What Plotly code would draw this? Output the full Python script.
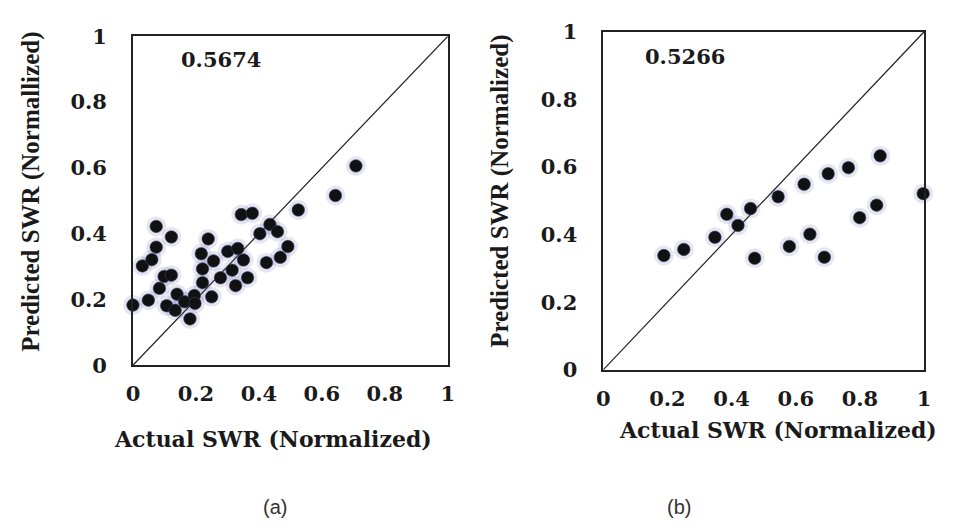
import plotly.graph_objects as go

# ---- data: panel (a) ----
actual_a = [0.000, 0.049, 0.030, 0.060, 0.074, 0.074, 0.084, 0.107, 0.099, 0.122,
            0.122, 0.134, 0.140, 0.164, 0.181, 0.195, 0.197, 0.217, 0.221, 0.221,
            0.239, 0.250, 0.256, 0.278, 0.301, 0.315, 0.326, 0.333, 0.344, 0.351,
            0.364, 0.379, 0.403, 0.424, 0.435, 0.459, 0.468, 0.492, 0.525, 0.643,
            0.708]
pred_a = [0.183, 0.198, 0.302, 0.321, 0.359, 0.422, 0.234, 0.181, 0.270, 0.274,
          0.390, 0.167, 0.216, 0.193, 0.141, 0.212, 0.188, 0.339, 0.293, 0.251,
          0.384, 0.208, 0.317, 0.266, 0.346, 0.289, 0.242, 0.355, 0.458, 0.320,
          0.266, 0.462, 0.400, 0.312, 0.428, 0.406, 0.328, 0.361, 0.472, 0.516,
          0.606]

# ---- data: panel (b) ----
actual_b = [0.189, 0.251, 0.348, 0.385, 0.420, 0.459, 0.472, 0.545, 0.580, 0.626,
            0.644, 0.689, 0.701, 0.764, 0.799, 0.852, 0.863, 0.997]
pred_b = [0.338, 0.356, 0.392, 0.460, 0.427, 0.477, 0.330, 0.512, 0.365, 0.549,
          0.401, 0.333, 0.580, 0.598, 0.450, 0.487, 0.633, 0.521]

diag = [0, 1]
tick_vals = [0, 0.2, 0.4, 0.6, 0.8, 1]
tick_text = ["0", "0.2", "0.4", "0.6", "0.8", "1"]
r_a = "0.5674"
r_b = "0.5266"
xtitle = "Actual SWR (Normalized)"
ytitle_a = "Predicted SWR (Normallized)"
ytitle_b = "Predicted SWR (Normalized)"
panel_labels = ["(a)", "(b)"]

WIDE = "DejaVu Serif"
SERIF = "Liberation Serif"
TXT = "#1a1a1a"
W, H = 953, 531

fig = go.Figure()

for xs, ys, xa, ya in [(actual_a, pred_a, "x", "y"), (actual_b, pred_b, "x2", "y2")]:
    fig.add_trace(go.Scatter(x=diag, y=diag, mode="lines", xaxis=xa, yaxis=ya,
                             line=dict(color="#222222", width=1.2), showlegend=False,
                             hoverinfo="skip"))
    fig.add_trace(go.Scatter(x=xs, y=ys, mode="markers", xaxis=xa, yaxis=ya,
                             marker=dict(size=20, color="rgba(70,80,150,0.14)",
                                         line=dict(width=0)),
                             showlegend=False, cliponaxis=False, hoverinfo="skip"))
    fig.add_trace(go.Scatter(x=xs, y=ys, mode="markers", xaxis=xa, yaxis=ya,
                             marker=dict(size=12.5, color="#111111",
                                         line=dict(width=1, color="rgba(60,60,110,0.6)")),
                             showlegend=False, cliponaxis=False))

axis_common = dict(range=[0, 1], showline=True, mirror=True, linecolor="#222222",
                   linewidth=1.5, showgrid=False, zeroline=False,
                   tickvals=tick_vals, ticktext=tick_text, ticks="",
                   ticklabeloverflow="allow",
                   tickfont=dict(family=WIDE, size=21, color=TXT, weight="bold"))

fig.update_layout(
    width=W, height=H, autosize=False,
    margin=dict(l=0, r=0, t=0, b=0),
    paper_bgcolor="white", plot_bgcolor="white",
    xaxis=dict(domain=[119.7 / W, 439.3 / W], anchor="y", ticklabelstandoff=9, **axis_common),
    yaxis=dict(domain=[1 - 361.3 / H, 1 - 16 / H], anchor="x", ticklabelstandoff=20, **axis_common),
    xaxis2=dict(domain=[597 / W, 922.7 / W], anchor="y2", ticklabelstandoff=9, **axis_common),
    yaxis2=dict(domain=[1 - 366 / H, 1 - 11.3 / H], anchor="x2", ticklabelstandoff=20, **axis_common),
)

title_h = dict(family=WIDE, size=22, color=TXT, weight="bold")
title_v = dict(family=SERIF, size=25, color=TXT, weight="bold")
lab = dict(family="Liberation Sans", size=20, color="#333333")
val = dict(family=WIDE, size=21, color=TXT, weight="bold")
ann = [
    dict(text=r_a, x=0.28, y=0.93, xref="x", yref="y", showarrow=False, font=val),
    dict(text=r_b, x=0.255, y=0.928, xref="x2", yref="y2", showarrow=False, font=val),
    dict(text=xtitle, x=262 / W, y=1 - 439 / H, xref="paper", yref="paper",
         showarrow=False, xanchor="center", yanchor="middle", font=title_h),
    dict(text=xtitle, x=774 / W, y=1 - 429 / H, xref="paper", yref="paper",
         showarrow=False, xanchor="center", yanchor="middle", font=title_h),
    dict(text=ytitle_a, x=16 / W, y=1 - 179.5 / H, xref="paper", yref="paper",
         showarrow=False, textangle=-90, xanchor="center", yanchor="middle", font=title_v),
    dict(text=ytitle_b, x=492 / W, y=1 - 178.5 / H, xref="paper", yref="paper",
         showarrow=False, textangle=-90, xanchor="center", yanchor="middle", font=title_v),
    dict(text=panel_labels[0], x=264 / W, y=1 - 510 / H, xref="paper", yref="paper",
         showarrow=False, xanchor="center", yanchor="middle", font=lab),
    dict(text=panel_labels[1], x=674 / W, y=1 - 510 / H, xref="paper", yref="paper",
         showarrow=False, xanchor="center", yanchor="middle", font=lab),
]
fig.update_layout(annotations=ann)

fig.write_html("out.html")
